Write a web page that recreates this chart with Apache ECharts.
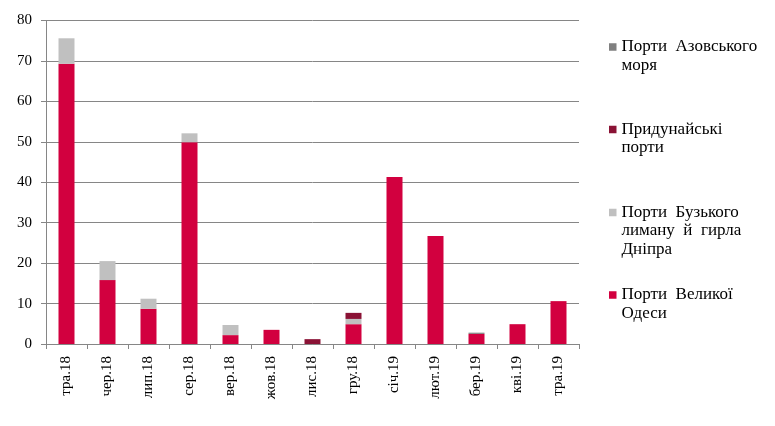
<!DOCTYPE html>
<html><head><meta charset="utf-8">
<script src="https://cdn.jsdelivr.net/npm/echarts@6/dist/echarts.min.js"></script>
<style>html,body{margin:0;padding:0;background:#fff}#c{width:775px;height:426px}</style>
</head><body><div id="c"></div>
<script>
const categories = ['тра.18','чер.18','лип.18','сер.18','вер.18','жов.18','лис.18','гру.18','січ.19','лют.19','бер.19','кві.19','тра.19'];
const odessa = [69.3, 15.8, 8.7, 49.9, 2.2, 3.5, 0, 4.9, 41.3, 26.7, 2.5, 4.9, 10.6];
const buz    = [6.3, 4.7, 2.5, 2.2, 2.5, 0, 0, 1.3, 0, 0, 0, 0, 0];
const danube = [0, 0, 0, 0, 0, 0, 1.2, 1.5, 0, 0, 0, 0, 0];
const azov   = [0, 0, 0, 0, 0, 0, 0, 0, 0, 0, 0.3, 0, 0];
const names = ['Порти Великої Одеси','Порти Бузького лиману й гирла Дніпра','Придунайські порти','Порти Азовського моря'];
const wrapped = {
  'Порти Азовського моря': 'Порти  Азовського\nморя',
  'Придунайські порти': 'Придунайські\nпорти',
  'Порти Бузького лиману й гирла Дніпра': 'Порти  Бузького\nлиману  й  гирла\nДніпра',
  'Порти Великої Одеси': 'Порти  Великої\nОдеси'
};
const colors = ['#D2003F','#C0C0C0','#8A1235','#808080'];
const serif = 'Liberation Serif, Times New Roman, serif';
const LH = 18.5;
function mkLegend(name, firstCenter){
  const n = wrapped[name].split('\n').length;
  const H = n*LH;
  const a = LH/2 - 3.75, b = LH/2 + 3.75;
  const icon = 'path://M0,0L0.01,0M0,' + a + 'L7.5,' + a + 'L7.5,' + b + 'L0,' + b + 'ZM0,' + H + 'L0.01,' + H;
  return {
    data:[{name:name, icon:icon}], left:609, top: firstCenter - LH/2, padding:0,
    itemWidth:7.5, itemHeight:H, itemGap:0, selectedMode:false,
    formatter: nm => wrapped[nm],
    textStyle:{fontFamily:serif, fontSize:17, color:'#000', lineHeight:LH}
  };
}
const series = [odessa, buz, danube, azov].map((d,i)=>({
  name:names[i], type:'bar', stack:'s', data:d, barWidth:16,
  itemStyle:{color:colors[i]}
}));
const chart = echarts.init(document.getElementById('c'));
chart.setOption({
  animation:false,
  legend:[mkLegend(names[3],47), mkLegend(names[2],129.5), mkLegend(names[1],212.5), mkLegend(names[0],295)],
  grid:{left:46, right:196, top:20.5, bottom:82},
  xAxis:{type:'category', data:categories,
    axisLine:{lineStyle:{color:'#868686'}},
    axisTick:{show:true, length:5, lineStyle:{color:'#868686'}},
    axisLabel:{rotate:90, margin:12, fontFamily:serif, fontSize:15, color:'#000'}},
  yAxis:{type:'value', min:0, max:80, interval:10,
    axisLine:{show:true, lineStyle:{color:'#868686'}},
    axisTick:{show:true, length:5, lineStyle:{color:'#868686'}},
    splitLine:{lineStyle:{color:'#868686'}},
    axisLabel:{margin:14, fontFamily:serif, fontSize:15, color:'#000'}},
  series
});
</script></body></html>
